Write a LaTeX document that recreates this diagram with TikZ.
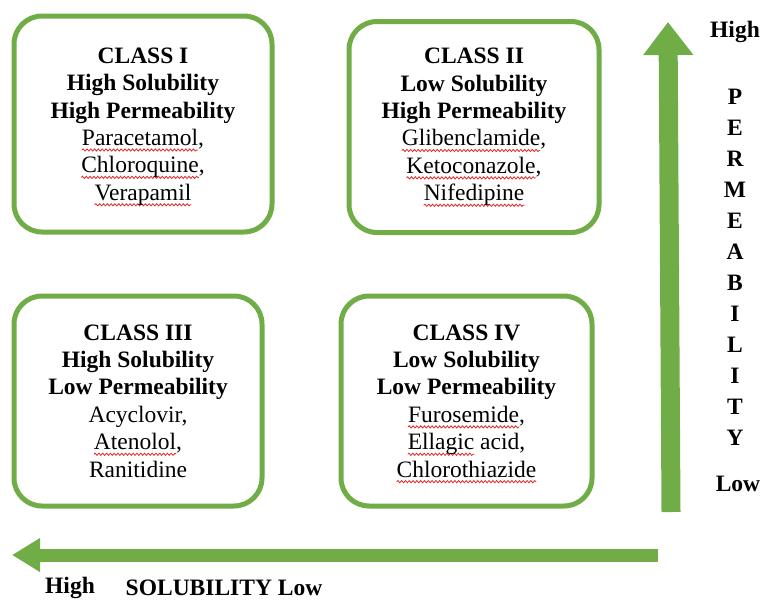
\documentclass[tikz,border=0pt]{standalone}
\usepackage{fontspec}
\setmainfont{Liberation Serif}
\usetikzlibrary{arrows.meta,decorations.pathmorphing}
\definecolor{bcsgreen}{HTML}{70AD47}
\definecolor{squigred}{HTML}{E02828}
\newlength\squiglen
\newcommand\squig[1]{\settowidth\squiglen{#1}\rlap{\tikz[baseline=0pt,sharp corners,x=1pt,y=1pt]{\useasboundingbox (0pt,0pt) rectangle (\squiglen,0pt);\draw[squigred,sharp corners,line width=0.8pt,decorate,decoration={snake,amplitude=1.1pt,segment length=3.8pt}] (0pt,-4.5pt) -- (\squiglen,-4.5pt);}}#1}
\tikzset{
  classbox/.style={draw=bcsgreen, line width=5pt, rounded corners=28pt, fill=white,
    align=center, inner sep=0pt, font=\fontsize{23.5}{27.4}\selectfont},
  axislabel/.style={inner sep=0pt, font=\fontsize{23.5}{31}\selectfont\bfseries},
  bigarrow/.style={draw=bcsgreen, -{Triangle[length=33pt,width=48pt]}}
}
\begin{document}
\begin{tikzpicture}[x=1pt,y=-1pt]
\useasboundingbox (0,0) rectangle (762,600);
\node[classbox, minimum width=258pt, minimum height=216pt, text depth=-4pt] (c1) at (143,124)
  {\textbf{CLASS I}\\ \textbf{High Solubility}\\ \textbf{High Permeability}\\ \squig{Paracetamol},\\ \squig{Chloroquine},\\ \squig{Verapamil}};
\node[classbox, minimum width=250pt, minimum height=211pt] (c2) at (474,127)
  {\textbf{CLASS II}\\ \textbf{Low Solubility}\\ \textbf{High Permeability}\\ \squig{Glibenclamide},\\ \squig{Ketoconazole},\\ \squig{Nifedipine}};
\node[classbox, minimum width=248pt, minimum height=210pt] (c3) at (138,401)
  {\textbf{CLASS III}\\ \textbf{High Solubility}\\ \textbf{Low Permeability}\\ Acyclovir,\\ \squig{Atenolol},\\ Ranitidine};
\node[classbox, minimum width=251pt, minimum height=210pt] (c4) at (466.5,401)
  {\textbf{CLASS IV}\\ \textbf{Low Solubility}\\ \textbf{Low Permeability}\\ \squig{Furosemide},\\ \squig{Ellagic} acid,\\ \squig{Chlorothiazide}};
% vertical arrow
\coordinate (vbot) at (671,512);
\coordinate (vtop) at (668,22);
\draw[bigarrow, line width=19pt] (vbot) -- (vtop);
% horizontal arrow
\coordinate (hright) at (658,555);
\coordinate (hleft) at (12,555);
\draw[draw=bcsgreen, line width=13pt, -{Triangle[length=28pt,width=32pt]}] (hright) -- (hleft);
% labels
\node[axislabel] (phigh) at (735,32) {High};
\node[axislabel, align=center] (perm) at (735,267.5) {P\\E\\R\\M\\E\\A\\B\\I\\L\\I\\T\\Y};
\node[axislabel] (plow) at (738,484) {Low};
\node[axislabel] (shigh) at (70,588) {High};
\node[axislabel] (sol) at (224,588) {SOLUBILITY Low};
\end{tikzpicture}
\end{document}
